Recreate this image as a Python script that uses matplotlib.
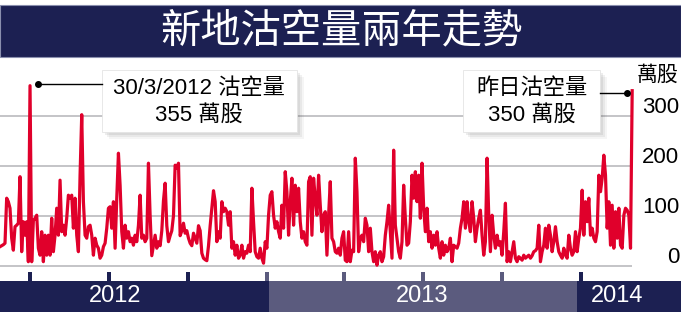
import numpy as np
import pandas as pd
import matplotlib
matplotlib.use("Agg")
import matplotlib.pyplot as plt
import matplotlib.dates as mdates
from matplotlib.patches import Rectangle
from matplotlib.transforms import blended_transform_factory
from matplotlib.lines import Line2D

# ---------------- data (short-selling volume, 10k shares) ----------------
title = "新地沽空量兩年走勢"
unit_label = "萬股"
y_ticks = [0, 100, 200, 300]
year_labels = ["2012", "2013", "2014"]
note_peak = ["30/3/2012 沽空量", "355 萬股"]
note_last = ["昨日沽空量", "350 萬股"]
start_date = "2012-02-27 16:00"
end_date = "2014-03-03"

vol_2012_h1 = [38, 40, 42, 45, 135, 128, 115, 55, 31, 78, 81, 85, 178, 28, 88, 61, 88, 8, 360, 8,
               90, 95, 101, 35, 21, 68, 8, 61, 21, 61, 21, 95, 28, 61, 115, 61, 171, 68, 81, 61,
               95, 141, 135, 141, 75, 135, 61, 28, 181, 302, 128, 61, 55, 78, 81, 61, 21, 55, 41, 35,
               15, 21, 38, 45, 75, 115, 118]
vol_2012_h2 = [75, 128, 35, 135, 225, 161, 68, 35, 81, 55, 68, 48, 55, 41, 61, 48, 81, 141, 55, 61,
               48, 55, 205, 100, 20, 40, 61, 35, 48, 40, 70, 130, 165, 80, 48, 60, 70, 100, 201, 195,
               205, 60, 70, 85, 65, 70, 55, 45, 40, 65, 55, 45, 80, 70, 25, 15, 12, 10, 40, 80,
               115, 150]
vol_2012_q4 = [128, 48, 68, 55, 128, 108, 115, 108, 81, 108, 35, 48, 21, 41, 15, 21, 41, 15, 28, 25,
               41, 28, 155, 88, 28, 18, 15, 35, 15, 5, 48, 35, 101, 141, 148, 101, 75, 88, 68, 55,
               121, 75, 188, 148, 61, 128, 175, 81, 161, 108, 155, 88, 55, 68, 48, 41, 168, 178, 61, 175,
               135, 101, 181]
vol_2013_h1 = [121, 68, 101, 108, 21, 101, 168, 55, 48, 28, 25, 35, 21, 55, 68, 11, 8, 68, 8, 31,
               28, 215, 148, 28, 55, 61, 48, 95, 81, 28, 75, 28, 8, 28, 1, 21, 28, 8, 18, 61,
               88, 121, 68, 15, 231, 81, 55, 28, 15, 48, 161, 95, 41, 45, 88, 181, 135, 188, 128, 181,
               95, 205]
vol_2013_h2 = [115, 68, 115, 48, 68, 35, 61, 41, 68, 35, 15, 48, 21, 41, 28, 35, 55, 8, 41, 38,
               35, 45, 75, 95, 128, 75, 128, 88, 68, 128, 95, 48, 75, 95, 111, 61, 21, 48, 215, 101,
               28, 101, 61, 35, 61, 41, 48, 21, 68, 125, 8, 28, 8, 28, 48, 15, 8, 18, 15, 11,
               21, 15, 18, 21]
vol_2014 = [15, 20, 28, 30, 35, 81, 8, 28, 41, 75, 35, 81, 61, 28, 48, 78, 48, 28, 21, 15,
            35, 21, 15, 61, 35, 21, 28, 68, 28, 55, 75, 151, 61, 128, 88, 135, 61, 75, 55, 48,
            68, 181, 148, 175, 221, 181, 75, 128, 41, 121, 35, 108, 55, 115, 41, 35, 101, 115, 111, 101,
            35, 350]

volume = np.array(vol_2012_h1 + vol_2012_h2 + vol_2012_q4 + vol_2013_h1 + vol_2013_h2 + vol_2014, float)
dates = pd.date_range(start_date, end_date, periods=len(volume))

# ---------------- styling ----------------
W, H = 681, 312
NAVY = "#1c2052"
SLATE = "#5b5b7e"
RED = "#e0002b"
GRID = "#b4b4b8"
LATIN = ["Liberation Sans", "Noto Sans CJK TC", "DejaVu Sans"]
CJK = ["Noto Sans CJK TC", "DejaVu Sans"]

fig = plt.figure(figsize=(W / 100, H / 100), dpi=100)
fig.patch.set_facecolor("white")


def fx(x):
    return x / W


def fy(y):
    return 1 - y / H


PX_PER_DAY = 0.8609
x_left = mdates.date2num(dates[0])
x_right = x_left + W / PX_PER_DAY

# main axes: value 0 at y=265.7 px, 2 units per px
ax = fig.add_axes([0, fy(270.7), 1, 195 / H])
ax.set_ylim(-10, 380)
ax.set_xlim(x_left, x_right)
ax.set_axis_off()

ax.hlines(y_ticks, dates[0], dates[-1], color=GRID, lw=1.1, zorder=1)
ax.plot(dates, volume, color=RED, lw=2.3, zorder=3)

# right-hand value labels
trans_lbl = blended_transform_factory(fig.transFigure, ax.transData)
for v in y_ticks:
    ax.text(fx(679), v + 5, str(v), transform=trans_lbl, ha="right", va="baseline",
            fontsize=16, family=LATIN, color="black", clip_on=False, zorder=6)
fig.text(fx(679), fy(75), unit_label, ha="right", va="center", fontsize=15,
         family=CJK, color="black", zorder=6)

# title bar
fig.add_artist(Rectangle((fx(0), fy(57)), 1, 52 / H, transform=fig.transFigure,
                         facecolor=NAVY, edgecolor="#8a8fae", lw=0.8, zorder=4))
fig.text(fx(341), fy(31), title, ha="center", va="center", fontsize=29,
         family=CJK, color="white", zorder=6)

# bottom year bands and quarter ticks
trans_band = blended_transform_factory(ax.transData, fig.transFigure)
y2013 = mdates.date2num(pd.Timestamp("2013-01-01"))
y2014 = mdates.date2num(pd.Timestamp("2014-01-01"))
b1 = y2013 + 4 / PX_PER_DAY
b2 = y2014 - 3 / PX_PER_DAY
bands = [(x_left, b1, NAVY), (b1, b2, SLATE), (b2, x_right, NAVY)]
for a, b, c in bands:
    fig.add_artist(Rectangle((a, fy(312)), b - a, 31 / H, transform=trans_band,
                             facecolor=c, edgecolor="none", zorder=4))
quarters = pd.date_range("2012-04-01", "2014-01-01", freq="QS")
tick_w = 4 / PX_PER_DAY
for q in quarters:
    qn = mdates.date2num(q) + 1.5 / PX_PER_DAY
    col = SLATE if (y2013 + 1 < qn < y2014 - 1) else NAVY
    fig.add_artist(Rectangle((qn - tick_w / 2, fy(281)), tick_w, 9 / H, transform=trans_band,
                             facecolor=col, edgecolor="none", zorder=4))
for lbl, xc in zip(year_labels, [115, 422, 617]):
    fig.text(fx(xc), fy(296.5), lbl, ha="center", va="center", fontsize=17,
             family=LATIN, color="white", zorder=6)


# annotation boxes with soft shadow
def note_box(x0, x1, y0, y1, lines, xc):
    for off, alpha in [(7, 0.06), (5, 0.08), (3, 0.10)]:
        fig.add_artist(Rectangle((fx(x0 + off), fy(y1 + off)), (x1 - x0) / W, (y1 - y0) / H,
                                 transform=fig.transFigure, facecolor="#555555",
                                 edgecolor="none", alpha=alpha, zorder=4.5))
    fig.add_artist(Rectangle((fx(x0), fy(y1)), (x1 - x0) / W, (y1 - y0) / H,
                             transform=fig.transFigure, facecolor="white",
                             edgecolor="#e4e4e4", lw=0.6, zorder=5))
    for txt, yy in zip(lines, [88, 115]):
        fig.text(fx(xc), fy(yy), txt, ha="center", va="center", fontsize=16,
                 family=LATIN, color="black", zorder=6)


note_box(102, 297, 70, 132, note_peak, 199)
note_box(463, 600, 70, 132, note_last, 532)

# connector lines with dots
for (xa, xb, yy, xd) in [(38, 102, 84, 38), (600, 627, 93, 627)]:
    fig.add_artist(Line2D([fx(xa), fx(xb)], [fy(yy), fy(yy)], transform=fig.transFigure,
                          color="black", lw=1.0, zorder=5))
    fig.add_artist(Line2D([fx(xd)], [fy(yy)], transform=fig.transFigure, marker="o",
                          markersize=4, color="black", zorder=6))

fig.savefig("out.png", dpi=100, facecolor="white")
